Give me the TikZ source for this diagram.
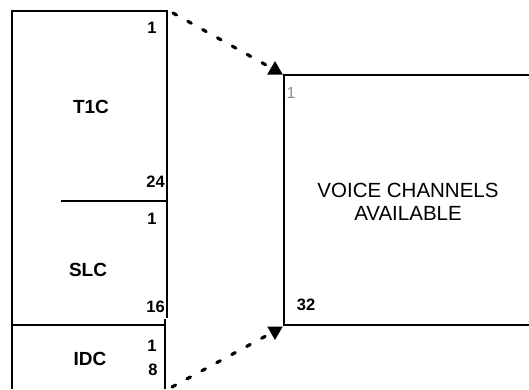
\documentclass[tikz,border=0pt]{standalone}
\usepackage{fontspec}
\setmainfont{Liberation Sans}
\usetikzlibrary{shapes.geometric}

\begin{document}
\begin{tikzpicture}[x=1pt, y=-1pt,
  every node/.style={inner sep=0pt},
  wall/.style={line width=2.2pt},
  lbl/.style={font=\fontsize{19}{19}\selectfont\bfseries},
  num/.style={font=\fontsize{16.5}{16.5}\selectfont\bfseries},
  txt/.style={font=\fontsize{20.5}{23}\selectfont, align=center},
  dots/.style={line width=3.2pt, line cap=round, dash pattern=on 4pt off 13pt},
  tip/.style={regular polygon, regular polygon sides=3, fill, minimum size=18pt}
]
\useasboundingbox (0,0) rectangle (529,389);

% left blocks
\draw[wall] (168,11) -- (12,11) -- (12,389);
\draw[wall] (167,11) -- (167,318);
\draw[wall] (61,201) -- (167,201);
\draw[wall] (12,325) -- (165,325);
\draw[wall] (165,319) -- (165,389);

\node[lbl] (t1c) at (91,107) {T1C};
\node[lbl] (slc) at (88,270) {SLC};
\node[lbl] (idc) at (90,359) {IDC};
\node[num] (t1) at (152,28) {1};
\node[num, anchor=east] (t24) at (165,182) {24};
\node[num] (s1) at (152,219) {1};
\node[num, anchor=east] (s16) at (165,307) {16};
\node[num] (i1) at (152,346) {1};
\node[num] (i8) at (153,370) {8};

% right box
\draw[wall] (529,75) -- (284,75) -- (284,325) -- (529,325);
\node[font=\fontsize{16}{16}\selectfont, text=black!45] (v1) at (291,93) {1};
\node[num] (v32) at (306,305) {32};
\node[txt] (voice) at (408,202) {VOICE CHANNELS\\AVAILABLE};

% arrows
\coordinate (topend) at (173,13);
\coordinate (botend) at (172,387);
\node[tip] (tipA) at (275,70) {};
\node[tip, shape border rotate=180] (tipB) at (275,331) {};
\draw[dots] (topend) -- (tipA);
\draw[dots] (botend) -- (tipB);
\end{tikzpicture}
\end{document}
